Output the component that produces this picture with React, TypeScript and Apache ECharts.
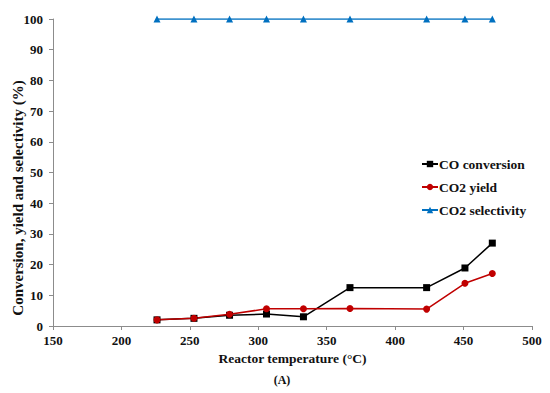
import React, { useEffect, useRef } from "react";
import * as echarts from "echarts";

const temperatures = [226, 253, 279, 306, 333, 367, 423, 451, 471];
const coConversion = [2.0, 2.5, 3.5, 3.9, 3.0, 12.5, 12.5, 18.9, 27.0];
const co2Yield = [2.0, 2.5, 3.8, 5.6, 5.6, 5.7, 5.5, 13.9, 17.1];
const co2Selectivity = [100, 100, 100, 100, 100, 100, 100, 100, 100];

const FONT = "'Liberation Serif', 'Times New Roman', serif";

function pairs(xs: number[], ys: number[]) {
  return xs.map((x, i) => [x, ys[i]]);
}

export default function App() {
  const ref = useRef<HTMLDivElement>(null);
  useEffect(() => {
    if (!ref.current) return;
    const chart = echarts.init(ref.current, undefined, { renderer: "svg" });
    const axisLine = { lineStyle: { color: "#8c8c8c", width: 1 } };
    chart.setOption({
      animation: false,
      backgroundColor: "#ffffff",
      grid: {
        left: 53,
        right: 18,
        top: 19,
        bottom: 67,
        containLabel: false,
        outerBoundsMode: "none",
      },
      xAxis: {
        type: "value",
        min: 150,
        max: 500,
        interval: 50,
        name: "Reactor temperature (°C)",
        nameLocation: "middle",
        nameGap: 25,
        nameTextStyle: { fontFamily: FONT, fontWeight: "bold", fontSize: 13.5, color: "#111" },
        axisLine: { show: true, onZero: false, ...axisLine },
        axisTick: { show: true, length: 4, lineStyle: { color: "#8c8c8c" } },
        axisLabel: { fontFamily: FONT, fontWeight: "bold", fontSize: 13, color: "#111", margin: 8 },
        splitLine: { show: false },
      },
      yAxis: {
        type: "value",
        min: 0,
        max: 100,
        interval: 10,
        axisLine: { show: true, ...axisLine },
        axisTick: { show: true, length: 4, lineStyle: { color: "#8c8c8c" } },
        axisLabel: { fontFamily: FONT, fontWeight: "bold", fontSize: 13, color: "#111", margin: 10 },
        splitLine: { show: false },
      },
      legend: {
        orient: "vertical",
        left: 416,
        top: 152,
        itemGap: 9,
        itemWidth: 16,
        itemHeight: 8,
        textStyle: { fontFamily: FONT, fontWeight: "bold", fontSize: 13.5, color: "#111", padding: [0, 0, 0, -4] },
        data: ["CO conversion", "CO2 yield", "CO2 selectivity"],
      },
      series: [
        {
          name: "CO conversion",
          type: "line",
          data: pairs(temperatures, coConversion),
          symbol: "rect",
          symbolSize: 7,
          color: "#000000",
          lineStyle: { color: "#000000", width: 1.5 },
          itemStyle: { color: "#000000" },
        },
        {
          name: "CO2 yield",
          type: "line",
          data: pairs(temperatures, co2Yield),
          symbol: "circle",
          symbolSize: 7,
          color: "#C00000",
          lineStyle: { color: "#C00000", width: 1.5 },
          itemStyle: { color: "#C00000" },
        },
        {
          name: "CO2 selectivity",
          type: "line",
          data: pairs(temperatures, co2Selectivity),
          symbol: "triangle",
          symbolSize: 7,
          color: "#0070C0",
          lineStyle: { color: "#0070C0", width: 1.5 },
          itemStyle: { color: "#0070C0" },
        },
      ],
      graphic: [
        {
          type: "text",
          x: 18,
          y: 198,
          rotation: Math.PI / 2,
          style: {
            text: "Conversion, yield and selectivity (%)",
            font: `bold 15px ${FONT}`,
            fill: "#111",
            align: "center",
            verticalAlign: "middle",
          },
        },
        {
          type: "text",
          x: 282,
          y: 380,
          style: {
            text: "(A)",
            font: `bold 12px ${FONT}`,
            fill: "#111",
            align: "center",
            verticalAlign: "middle",
          },
        },
      ],
    });
    return () => chart.dispose();
  }, []);
  return <div ref={ref} style={{ width: 550, height: 393, position: "absolute", left: 0, top: 0 }} />;
}
